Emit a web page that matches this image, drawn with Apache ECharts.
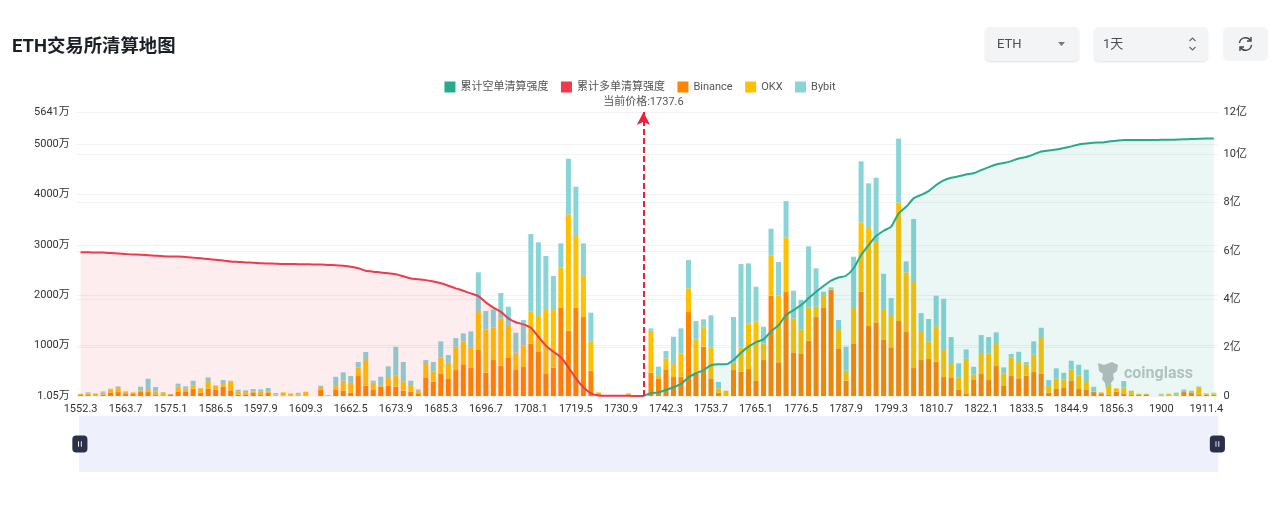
<!DOCTYPE html>
<html>
<head>
<meta charset="utf-8">
<style>
  html, body { margin: 0; padding: 0; background: #fff; width: 1280px; height: 511px; overflow: hidden; }
  #chart { position: absolute; left: 0; top: 0; width: 1280px; height: 511px; }
  .ctl { position: absolute; top: 27px; height: 34px; background: #f2f4f6; border-radius: 5px;
         box-shadow: 0 1px 2px rgba(0,0,0,.12); font: 13px Roboto, "Noto Sans CJK SC", sans-serif; color: #4a4f57;
         line-height: 34px; box-sizing: border-box; padding-left: 12px; }
  .ctl svg { position: absolute; }
</style>
<script src="https://cdn.jsdelivr.net/npm/echarts@6/dist/echarts.min.js"></script>
</head>
<body>
<div id="chart"></div>
<div class="ctl" style="left:985px;width:94px;">ETH
  <svg style="left:72px;top:15px" width="9" height="5"><path d="M1 0H8L4.5 4Z" fill="#777"/></svg>
</div>
<div class="ctl" style="left:1094px;width:114px;padding-left:9px;">1天
  <svg style="left:94px;top:9px" width="9" height="16" fill="none" stroke="#666" stroke-width="1.1"><path d="M1.5 5L4.5 2L7.5 5M1.5 11L4.5 14L7.5 11"/></svg>
</div>
<div class="ctl" style="left:1223px;width:45px;box-shadow:none;">
  <svg style="left:14px;top:9px" width="17" height="16" viewBox="0 0 17 16" fill="none" stroke="#444" stroke-width="1.4">
    <path d="M2.5 7A6 6 0 0 1 13.5 4.5M14.5 9A6 6 0 0 1 3.5 11.5"/>
    <path d="M14 1V5H10M3 15V11H7"/>
  </svg>
</div>
<script>
// Price buckets along the bottom axis
const categories = [
  '1552.3','1554.2','1556.1','1558','1559.9','1561.8','1563.7','1565.6','1567.5','1569.4','1571.3','1573.2',
  '1575.1','1577','1578.9','1580.8','1582.7','1584.6','1586.5','1588.4','1590.3','1592.2','1594.1','1596',
  '1597.9','1599.8','1601.7','1603.6','1605.5','1607.4','1609.3','1653','1654.9','1656.8','1658.7','1660.6',
  '1662.5','1664.4','1666.3','1668.2','1670.1','1672','1673.9','1675.8','1677.7','1679.6','1681.5','1683.4',
  '1685.3','1687.2','1689.1','1691','1692.9','1694.8','1696.7','1698.6','1700.5','1702.4','1704.3','1706.2',
  '1708.1','1710','1711.9','1713.8','1715.7','1717.6','1719.5','1721.4','1723.3','1725.2','1727.1','1729',
  '1730.9','1732.8','1734.7','1736.6','1738.5','1740.4','1742.3','1744.2','1746.1','1748','1749.9','1751.8',
  '1753.7','1755.6','1757.5','1759.4','1761.3','1763.2','1765.1','1767','1768.9','1770.8','1772.7','1774.6',
  '1776.5','1778.4','1780.3','1782.2','1784.1','1786','1787.9','1789.8','1791.7','1793.6','1795.5','1797.4',
  '1799.3','1801.2','1803.1','1805','1806.9','1808.8','1810.7','1812.6','1814.5','1816.4','1818.3','1820.2',
  '1822.1','1824','1825.9','1827.8','1829.7','1831.6','1833.5','1835.4','1837.3','1839.2','1841.1','1843',
  '1844.9','1846.8','1848.7','1850.6','1852.5','1854.4','1856.3','1858.2','1860.1','1862','1863.9','1898.1',
  '1900','1901.9','1903.8','1905.7','1907.6','1909.5','1911.4','1913.3'
];

// Liquidation volume per exchange, in 万
const binance = [
  33,20,13,26,73,79,40,40,79,79,33,13,33,93,93,146,66,146,132,185,113,26,33,73,33,60,7,7,13,7,13,0,
  119,7,132,106,66,397,205,119,185,199,185,106,86,53,371,285,450,338,516,629,556,914,463,715,602,768,
  516,576,1039,874,437,563,1761,1298,1754,1569,503,53,0,0,0,33,0,0,
  463,351,530,377,384,1668,450,980,351,66,0,516,483,536,298,715,1993,669,2065,867,847,1099,1576,1748,
  2105,947,305,1046,2072,1390,1463,1125,967,1490,1284,556,715,735,682,377,371,132,53,331,437,318,596,
  212,397,351,404,477,450,66,146,159,311,139,132,79,40,26,86,53,20,26,33,0,7,13,13,79,66,33,26,26
];
const okx = [
  13,33,40,40,60,79,53,33,33,40,53,60,7,93,53,66,86,152,79,53,179,60,46,20,53,26,20,66,33,26,73,0,
  60,13,66,199,199,166,510,146,33,159,218,179,132,53,265,199,311,324,463,457,410,775,861,649,940,642,
  344,430,636,735,1271,1145,788,2310,1423,834,576,20,0,0,0,20,0,0,
  834,66,218,258,463,470,675,397,616,86,106,146,483,907,1185,331,794,1324,1079,675,477,655,199,258,
  13,364,199,702,1377,1946,1595,602,622,2350,1172,1708,576,351,702,536,265,232,688,99,397,530,437,
  238,371,324,225,344,702,132,199,172,218,265,166,13,33,192,66,119,60,20,13,0,26,26,20,26,33,132,26,20
];
const bybit = [
  0,20,0,26,13,33,0,0,73,225,93,7,0,60,46,93,7,73,0,79,13,40,33,46,46,73,33,0,7,33,0,0,
  26,0,185,166,132,113,159,40,166,232,576,391,86,26,79,192,324,152,172,159,318,768,364,357,503,364,
  397,503,1542,1443,1072,675,483,1106,980,629,576,0,0,0,0,0,0,0,
  46,166,146,543,497,563,364,146,636,126,0,907,1655,1192,688,331,536,669,728,549,583,1218,761,66,
  40,199,477,1019,1211,887,1278,702,357,1271,218,1251,357,444,609,1019,536,285,185,152,377,324,232,
  119,66,205,46,265,205,119,205,132,172,218,225,93,0,20,0,126,26,0,0,0,13,7,33,26,7,26,0,20
];

// Cumulative liquidation intensity, in 亿
const cumulativeLong = [
  5.94,5.94,5.93,5.93,5.91,5.89,5.87,5.85,5.84,5.82,5.80,5.78,5.77,5.77,5.75,5.72,5.69,5.66,5.63,5.60,
  5.56,5.54,5.52,5.51,5.49,5.48,5.47,5.46,5.46,5.45,5.45,5.44,5.44,5.42,5.41,5.38,5.34,5.28,5.18,5.14,
  5.11,5.07,5.03,4.95,4.86,4.83,4.79,4.73,4.66,4.56,4.45,4.35,4.24,4.13,3.87,3.65,3.48,3.21,3.05,2.96,
  2.82,2.45,2.08,1.83,1.60,1.19,0.73,0.36,0.11,0.02,0.01,0.01,0.01,0.01,0,0
];
const cumulativeShort = [
  0,0.11,0.15,0.25,0.36,0.50,0.77,0.94,1.07,1.27,1.31,1.31,1.49,1.79,2.04,2.23,2.34,2.67,2.93,3.35,
  3.55,3.76,4.04,4.31,4.55,4.77,4.90,4.97,5.28,5.83,6.24,6.61,6.83,7.00,7.55,7.82,8.17,8.31,8.47,8.72,
  8.91,9.02,9.08,9.16,9.21,9.34,9.46,9.57,9.63,9.71,9.82,9.88,9.99,10.11,10.15,10.19,10.25,10.32,10.40,10.44,
  10.47,10.48,10.52,10.55,10.58,10.58,10.58,10.58,10.58,10.59,10.59,10.60,10.61,10.62,10.63,10.64,10.64
];

// Axis settings and tick labels
const volumeTicks = [1.05, 1000, 2000, 3000, 4000, 5000, 5641];
const intensityTicks = [0, 2, 4, 6, 8, 10, 11.74];
const currentPrice = 1737.6;
const currentBucket = '1736.6';

const shortPadded = new Array(categories.length - cumulativeShort.length).fill(null).concat(cumulativeShort);

const FONT = 'Roboto, "Noto Sans CJK SC", sans-serif';

function barSeries(name, data, color) {
  return { name, type: 'bar', stack: 'volume', yAxisIndex: 0, barWidth: 5, data, itemStyle: { color }, z: 1 };
}

function lineSeries(name, data, color, areaColor, extra) {
  return Object.assign({
    name, type: 'line', yAxisIndex: 1, data, showSymbol: false, symbol: 'none', connectNulls: false,
    smooth: 0.2,
    lineStyle: { color, width: 2 }, itemStyle: { color },
    areaStyle: { color: areaColor }, z: 3
  }, extra);
}

const chart = echarts.init(document.getElementById('chart'), null, { renderer: 'canvas' });
chart.setOption({
  animation: false,
  backgroundColor: '#fff',
  textStyle: { fontFamily: FONT },
  title: {
    text: 'ETH交易所清算地图', left: 7, top: 33,
    textStyle: { fontSize: 18.4, fontWeight: 'bold', color: '#1b1f27', fontFamily: FONT }
  },
  legend: {
    top: 76.5, left: 'center', itemWidth: 11, itemHeight: 11, itemGap: 12.5, icon: 'rect',
    textStyle: { fontSize: 11, color: '#555', fontFamily: FONT },
    data: ['累计空单清算强度', '累计多单清算强度', 'Binance', 'OKX', 'Bybit']
  },
  grid: { left: 76.8, width: 1140.8, top: 112, height: 284 },
  xAxis: {
    type: 'category', data: categories, boundaryGap: true,
    axisLine: { show: false }, axisTick: { show: false },
    axisLabel: { interval: 5, fontSize: 11, color: '#333', margin: 8, fontFamily: FONT }
  },
  yAxis: [
    {
      type: 'value', min: 1.05, max: 5641, position: 'left',
      axisLine: { show: false },
      axisTick: { show: false, customValues: volumeTicks },
      splitLine: { lineStyle: { color: '#f2f2f2' } },
      axisLabel: { customValues: volumeTicks, fontSize: 11, color: '#333', margin: 7, fontFamily: FONT,
                   formatter: v => v + '万' }
    },
    {
      type: 'value', min: 0, max: 11.74, position: 'right',
      axisLine: { show: false },
      axisTick: { show: false, customValues: intensityTicks },
      splitLine: { lineStyle: { color: '#f2f2f2' } },
      axisLabel: { customValues: intensityTicks, fontSize: 11, color: '#333', margin: 6, fontFamily: FONT,
                   formatter: v => v === 0 ? '0' : Math.round(v) + '亿' }
    }
  ],
  dataZoom: [{
    type: 'slider', xAxisIndex: 0, start: 0, end: 100,
    left: 78, width: 1139.5, top: 416, height: 56,
    backgroundColor: '#eef1fc', borderColor: 'transparent', fillerColor: 'rgba(0,0,0,0)',
    showDataShadow: false, showDetail: false, brushSelect: false,
    moveHandleSize: 0,
    handleIcon: 'path://M4 0H12Q16 0 16 4V14Q16 18 12 18H4Q0 18 0 14V4Q0 0 4 0ZM6 6V12H7V6ZM9 6V12H10V6Z',
    handleSize: 17,
    handleStyle: { color: '#2a3048', borderColor: '#2a3048', borderWidth: 0 },
    emphasis: { handleStyle: { color: '#2a3048', borderColor: '#2a3048' } }
  }],
  graphic: [
    {
      type: 'polygon', x: 1098, y: 362, z: 0,
      shape: { points: [[0,1],[6,3],[14,0],[20,3],[19,9],[15,12],[16,17],[13,21],[13,27],[8,27],[7,21],[4,17],[5,12],[1,9]] },
      style: { fill: '#b9bdbd' }
    },
    {
      type: 'text', x: 1124, y: 366, z: 0,
      style: { text: 'coinglass', font: 'bold 16px ' + FONT, fill: '#bfc4c4' }
    }
  ],
  series: [
    lineSeries('累计空单清算强度', shortPadded, '#24ab8c', 'rgba(36,171,140,0.13)'),
    lineSeries('累计多单清算强度', cumulativeLong, '#ee3a4a', 'rgba(238,58,74,0.13)', {
      markLine: {
        silent: true, symbol: ['none', 'arrow'], symbolSize: [10, 13],
        lineStyle: { color: '#ee1f3c', type: [6, 3], width: 2 },
        label: { show: true, position: 'end', formatter: '当前价格:' + currentPrice,
                 fontSize: 11, color: '#555', distance: 4, fontFamily: FONT },
        data: [{ xAxis: currentBucket }]
      }
    }),
    barSeries('Binance', binance, '#ff8400'),
    barSeries('OKX', okx, '#ffc000'),
    barSeries('Bybit', bybit, '#88d4d6')
  ]
});
</script>
</body>
</html>
